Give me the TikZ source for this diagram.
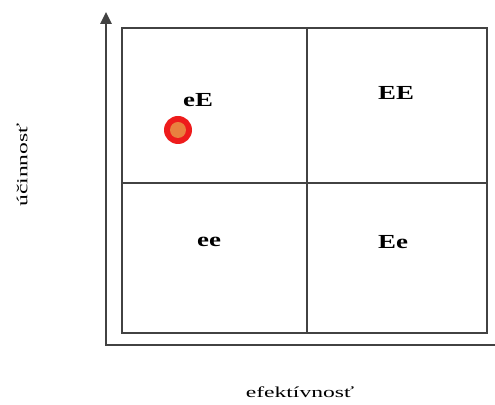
\documentclass[tikz,border=0pt]{standalone}
\usepackage{fontspec}
\setmainfont{Liberation Serif}
\usepackage{graphicx}
\usetikzlibrary{arrows.meta}
\definecolor{gridc}{HTML}{424242}
\definecolor{dotred}{HTML}{EE1C1C}
\definecolor{dotcore}{HTML}{E9813F}
\newcommand{\wide}[2][1.7]{\scalebox{#1}[1]{#2}}
\tikzset{
  frame/.style={draw=gridc, line width=1.5pt},
  axis/.style={-{Triangle[length=3.6mm,width=3.4mm]}, draw=gridc, line width=1.5pt},
  quad/.style={font=\fontsize{17}{19}\selectfont\bfseries, inner sep=0pt},
  lbl/.style={font=\fontsize{13}{15}\selectfont, inner sep=0pt},
}

\begin{document}
\begin{tikzpicture}[x=0.03cm, y=-0.03cm]
\useasboundingbox (0,0) rectangle (495,405);

% axes
\coordinate (o) at (106,345);
\coordinate (ytip) at (106,12);
\coordinate (xend) at (495,345);
\draw[axis] (xend) -- (o) -- (ytip);

% the four quadrants
\draw[frame] (122,28) rectangle (487,333);
\draw[frame] (307,28) -- (307,333);
\draw[frame] (122,183) -- (487,183);

\node[quad] (qeE) at (198,100) {\wide[1.35]{eE}};
\node[quad] (qEE) at (396,93) {\wide[1.35]{EE}};
\node[quad] (qee) at (209,242) {\wide[1.35]{ee}};
\node[quad] (qEe) at (393,242) {\wide[1.35]{Ee}};

% position marker
\fill[dotred] (178,130) circle (14);
\fill[dotcore] (178,130) circle (8);

% axis labels
\node[lbl, rotate=90] (ylbl) at (22,165) {\wide[1.55]{účinnosť}};
\node[lbl] (xlbl) at (300,392) {\wide[1.55]{efektívnosť}};
\end{tikzpicture}
\end{document}
